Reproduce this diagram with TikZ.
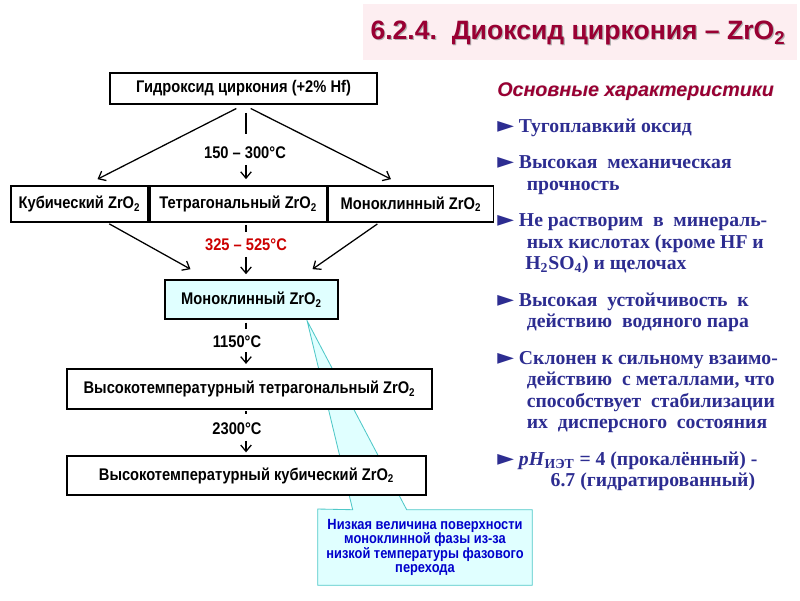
\documentclass[tikz,border=0pt]{standalone}
\usepackage{fontspec}
\setmainfont{Liberation Serif}
\newfontfamily\diagfont[FakeStretch=0.87]{Liberation Sans}
\newfontfamily\headfont{Liberation Sans}
\newfontfamily\symfont{DejaVu Sans}
\usetikzlibrary{shapes,arrows,arrows.meta,positioning,calc,backgrounds}
\definecolor{titlered}{RGB}{153,0,51}
\definecolor{titlepink}{RGB}{253,238,241}
\definecolor{navy}{RGB}{45,45,145}
\definecolor{palecyan}{RGB}{224,255,255}
\definecolor{noteblue}{RGB}{0,0,204}
\definecolor{noteline}{RGB}{80,200,200}
\definecolor{tempred}{RGB}{204,0,0}
\newcommand{\bul}{{\symfont\fontsize{15.5}{15}\selectfont ►}}
\tikzset{
    phasebox/.style={
        rectangle,
        draw=black,
        fill=white,
        line width=1.2pt,
        inner sep=0pt,
        text centered,
        font=\diagfont\bfseries\fontsize{12}{14}\selectfont
    },
    templabel/.style={
        inner sep=1pt,
        font=\diagfont\bfseries\fontsize{12}{14}\selectfont
    },
    transition/.style={
        ->,
        >={Straight Barb[length=4.5pt,width=7.5pt]},
        line width=0.9pt
    },
    feature/.style={
        anchor=base west,
        align=left,
        inner sep=0pt,
        text=navy,
        font=\bfseries\fontsize{14}{14.94}\selectfont
    }
}

\begin{document}
\begin{tikzpicture}[x=0.025cm, y=-0.025cm]
\useasboundingbox (0,0) rectangle (800,600);

% Title
\node[fill=titlepink, minimum width=10.85cm, minimum height=1.4cm, inner sep=0pt] (head-bg) at (580,32) {};
\node[text=black!30, font=\headfont\bfseries\fontsize{18.9}{22}\selectfont] (head-shadow) at (579.2,34.2) {6.2.4.~~Диоксид циркония – ZrO\textsubscript{2}};
\node[text=titlered, font=\headfont\bfseries\fontsize{18.9}{22}\selectfont] (head) at (578,33) {6.2.4.~~Диоксид циркония – ZrO\textsubscript{2}};

% Phases
\node[phasebox, minimum width=6.675cm, minimum height=0.775cm] (hydro) at (243.5,88.5) {Гидроксид циркония (+2\% Hf)};
\node[phasebox, minimum width=3.425cm, minimum height=0.9cm] (cubic) at (79.5,204) {Кубический ZrO\textsubscript{2}};
\node[phasebox, minimum width=4.425cm, minimum height=0.9cm, right=0pt of cubic] (tetra) {Тетрагональный ZrO\textsubscript{2}};
\node[phasebox, minimum width=4.125cm, minimum height=0.9cm, right=0pt of tetra] (mono) {Моноклинный ZrO\textsubscript{2}};
\node[phasebox, fill=palecyan, minimum width=4.325cm, minimum height=0.975cm] (monob) at (251.5,299.5) {Моноклинный ZrO\textsubscript{2}};
\node[phasebox, minimum width=9.125cm, minimum height=1cm] (httetra) at (249.5,389) {Высокотемпературный тетрагональный ZrO\textsubscript{2}};
\node[phasebox, minimum width=8.975cm, minimum height=0.975cm] (htcubic) at (246.5,475.5) {Высокотемпературный кубический ZrO\textsubscript{2}};

% Temperatures
\coordinate (axis) at (246,0);
\node[templabel] (t1) at (245,153) {150 – 300°C};
\node[templabel, text=tempred] (t2) at (246,245) {325 – 525°C};
\node[templabel] (t3) at (237,342) {1150°C};
\node[templabel] (t4) at (237,429) {2300°C};

% Note
\node[align=center, inner sep=0pt, minimum width=5.35cm, minimum height=1.875cm, text=noteblue,
      font=\diagfont\bfseries\fontsize{10.5}{10.4}\selectfont] (note) at (425,547.5)
      {Низкая величина поверхности\\моноклинной фазы из-за\\низкой температуры фазового\\перехода};
\coordinate (monotip) at ([shift={(143,1)}]monob.south west);

\begin{pgfonlayer}{background}
\fill[white] (0,0) rectangle (800,600);
\draw[fill=palecyan, draw=noteline, line width=0.6pt] ([yshift=0.5pt]note.north west) -- ([shift={(35,0)}]note.north west) -- (monotip)
    -- ([shift={(89,0)}]note.north west) -- (note.north east) -- (note.south east) -- (note.south west) -- cycle;
\end{pgfonlayer}

% Transitions
\draw[transition, shorten <=5.7pt] (hydro.south) -- ([shift={(18,-6)}]cubic.north);
\draw[transition, shorten <=5.7pt] (hydro.south) -- ([shift={(-20,-6)}]mono.north);
\draw[line width=0.9pt, shorten <=5.7pt, shorten >=8pt] (axis |- hydro.south) -- (axis |- t1.north);
\draw[transition, shorten <=3pt, shorten >=4.3pt] (axis |- t1.south) -- (axis |- tetra.north);

\draw[transition, shorten <=1.4pt] ([shift={(28,0)}]cubic.south) -- ([shift={(-61,-10)}]monob.north);
\draw[transition, shorten <=1.4pt] ([shift={(-32,0)}]mono.south) -- ([shift={(61,-10)}]monob.north);
\draw[line width=0.9pt, shorten <=1.4pt, shorten >=4pt] (axis |- tetra.south) -- (axis |- t2.north);
\draw[transition, shorten <=3pt, shorten >=3.5pt] (axis |- t2.south) -- (axis |- monob.north);

\draw[line width=0.9pt, shorten <=2pt, shorten >=3.5pt] (axis |- monob.south) -- (axis |- t3.north);
\draw[transition, shorten <=2pt, shorten >=3pt] (axis |- t3.south) -- (axis |- httetra.north);

\draw[line width=0.9pt, shorten <=1pt, shorten >=5pt] (axis |- httetra.south) -- (axis |- t4.north);
\draw[transition, shorten <=3pt, shorten >=2pt] (axis |- t4.south) -- (axis |- htcubic.north);

% Characteristics (base of each node = last line)
\node[anchor=base west, inner sep=0pt, text=black!20, font=\headfont\bfseries\itshape\fontsize{14}{16}\selectfont] (feat-shadow) at (497.7,96.7) {Основные характеристики};
\node[anchor=base west, inner sep=0pt, text=titlered, font=\headfont\bfseries\itshape\fontsize{14}{16}\selectfont] (feat-head) at (497,96) {Основные характеристики};
\node[feature] (b1) at (497,132) {\bul\ Тугоплавкий оксид};
\node[feature] (b2) at (497,190) {\bul\ Высокая\ \ механическая\\\hspace*{21pt}прочность};
\node[feature] (b3) at (497,269) {\bul\ Не растворим\ \ в\ \ минераль-\\\hspace*{21pt}ных кислотах (кроме HF и\\\hspace*{20pt}H\textsubscript{2}SO\textsubscript{4}) и щелочах};
\node[feature] (b4) at (497,327) {\bul\ Высокая\ \ устойчивость\ \ к\\\hspace*{21pt}действию\ \ водяного пара};
\node[feature] (b5) at (497,428) {\bul\ Склонен к сильному взаимо-\\\hspace*{21pt}действию\ \ с металлами, что\\\hspace*{21pt}способствует\ \ стабилизации\\\hspace*{21pt}их\ \ дисперсного\ \ состояния};
\node[feature] (b6) at (497,486) {\bul\ \textit{pH}\textsubscript{ИЭТ} = 4 (прокалённый) -\\\hspace*{38pt}6.7 (гидратированный)};
\end{tikzpicture}
\end{document}
